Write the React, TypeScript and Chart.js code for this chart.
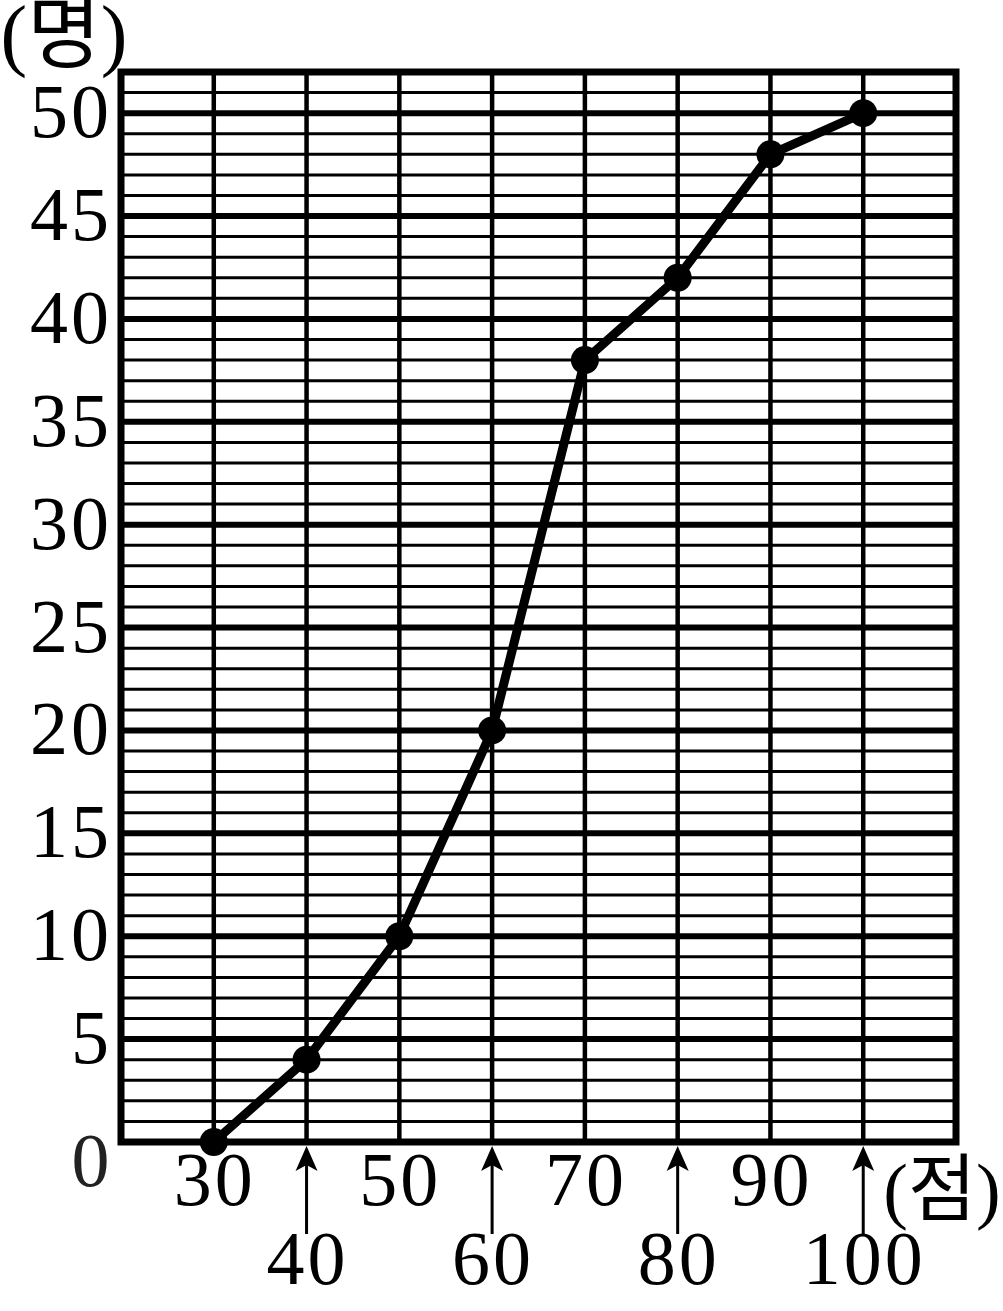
import React, { useEffect, useRef } from "react";
import { Chart, registerables } from "chart.js";

Chart.register(...registerables);

const scores = [30, 40, 50, 60, 70, 80, 90, 100];
const cumulative = [0, 4, 10, 20, 38, 42, 48, 50];
const yTickLabels = [0, 5, 10, 15, 20, 25, 30, 35, 40, 45, 50];
const xLabelsUpper = [30, 50, 70, 90];
const xLabelsLower = [40, 60, 80, 100];
const xGridValues = [30, 40, 50, 60, 70, 80, 90, 100];
const yUnit = "(명)";
const xUnit = "(점)";

const FONT = '"Liberation Serif", "DejaVu Serif", serif';
const KFONT = '"Liberation Serif", "Noto Sans CJK KR", serif';

const gridPlugin = {
  id: "paperGrid",
  beforeDatasetsDraw(chart: any) {
    const { ctx, chartArea, scales } = chart;
    const xs = scales.x;
    const ys = scales.y;
    ctx.save();
    ctx.strokeStyle = "#000";
    ctx.lineCap = "butt";
    for (let v = 0; v <= 52; v++) {
      const y = ys.getPixelForValue(v);
      ctx.lineWidth = v % 5 === 0 ? 6 : 3;
      ctx.beginPath();
      ctx.moveTo(chartArea.left, y);
      ctx.lineTo(chartArea.right, y);
      ctx.stroke();
    }
    ctx.lineWidth = 4.5;
    for (const v of xGridValues) {
      const x = xs.getPixelForValue(v);
      ctx.beginPath();
      ctx.moveTo(x, chartArea.top);
      ctx.lineTo(x, chartArea.bottom);
      ctx.stroke();
    }
    ctx.lineWidth = 7;
    ctx.lineJoin = "miter";
    ctx.strokeRect(
      chartArea.left,
      chartArea.top,
      chartArea.right - chartArea.left,
      chartArea.bottom - chartArea.top
    );
    ctx.restore();
  },
  afterDraw(chart: any) {
    const { ctx, chartArea, scales } = chart;
    const xs = scales.x;
    const ys = scales.y;
    ctx.save();
    ctx.fillStyle = "#000";
    ctx.font = `76px ${FONT}`;
    (ctx as any).letterSpacing = "3px";
    // y tick labels
    ctx.textAlign = "right";
    ctx.textBaseline = "middle";
    for (const v of yTickLabels) {
      if (v === 0) continue;
      ctx.fillText(String(v), chartArea.left - 9, ys.getPixelForValue(v) + 4);
    }
    // zero label
    ctx.fillStyle = "#222";
    ctx.textAlign = "center";
    ctx.fillText("0", chartArea.left - 29, ys.getPixelForValue(0) + 24);
    ctx.fillStyle = "#000";
    // upper x labels
    const base = ys.getPixelForValue(0);
    for (const v of xLabelsUpper) {
      ctx.fillText(String(v), xs.getPixelForValue(v) + 1, base + 43);
    }
    // lower x labels with arrows
    for (const v of xLabelsLower) {
      const x = xs.getPixelForValue(v);
      ctx.fillText(String(v), x + 1, base + 122);
      ctx.lineWidth = 3;
      ctx.beginPath();
      ctx.moveTo(x, base + 92);
      ctx.lineTo(x, base + 20);
      ctx.stroke();
      ctx.beginPath();
      ctx.moveTo(x, base + 4);
      ctx.lineTo(x - 11, base + 29);
      ctx.lineTo(x, base + 23);
      ctx.lineTo(x + 11, base + 29);
      ctx.closePath();
      ctx.fill();
    }
    // unit labels
    (ctx as any).letterSpacing = "0px";
    ctx.font = `74px ${KFONT}`;
    ctx.textAlign = "center";
    ctx.fillText(xUnit, 942, base + 54);
    ctx.font = `80px ${KFONT}`;
    ctx.fillText(yUnit, 64, 40);
    ctx.restore();
  },
};

export default function App() {
  const canvasRef = useRef<HTMLCanvasElement | null>(null);

  useEffect(() => {
    document.body.style.margin = "0";
    const canvas = canvasRef.current;
    if (!canvas) return;
    const chart = new Chart(canvas, {
      type: "line",
      data: {
        datasets: [
          {
            data: scores.map((s, i) => ({ x: s, y: cumulative[i] })),
            borderColor: "#000",
            backgroundColor: "#000",
            borderWidth: 9,
            pointRadius: 14,
            pointBackgroundColor: "#000",
            pointBorderWidth: 0,
            tension: 0,
            clip: false as any,
          },
        ],
      },
      options: {
        responsive: false,
        animation: false,
        events: [],
        layout: { padding: { left: 121, right: 47, top: 72, bottom: 169 } },
        plugins: {
          legend: { display: false },
          tooltip: { enabled: false },
        },
        scales: {
          x: { type: "linear", min: 20, max: 110, display: false },
          y: { type: "linear", min: 0, max: 52, display: false },
        },
      },
      plugins: [gridPlugin],
    });
    return () => chart.destroy();
  }, []);

  return (
    <div style={{ position: "absolute", left: 0, top: 0, width: 1003, height: 1311, background: "#fff" }}>
      <canvas ref={canvasRef} width={1003} height={1311} />
    </div>
  );
}
